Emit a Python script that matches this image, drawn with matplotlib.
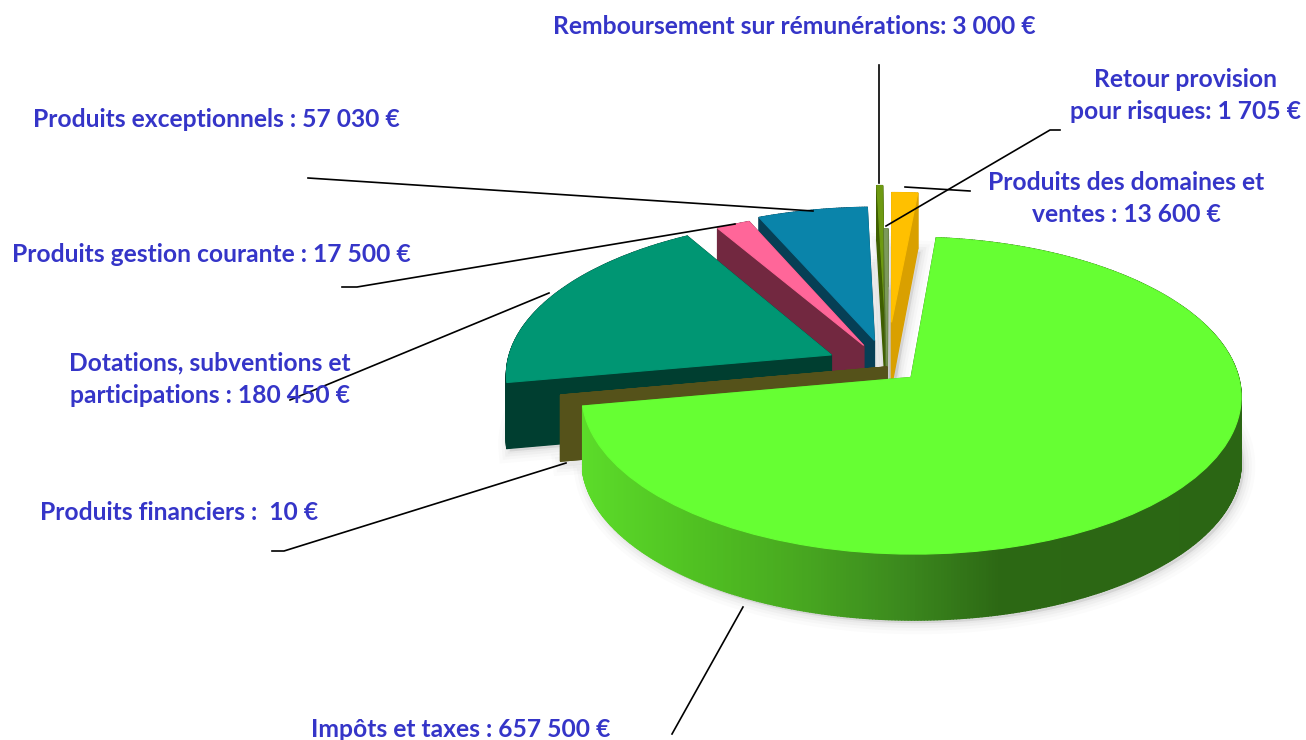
import matplotlib
matplotlib.use("Agg")
import matplotlib.pyplot as plt
from matplotlib.collections import PolyCollection
from matplotlib.patches import Polygon
from matplotlib.transforms import Transform
import numpy as np

# data
names = ["Impôts et taxes", "Produits financiers", "Dotations", "Gestion courante",
         "Exceptionnels", "Remboursement", "Retour provision", "Domaines"]
values = [657500, 10, 180450, 17500, 57030, 3000, 1705, 13600]
labels = ["Impôts et taxes : 657 500 €", "Produits financiers :  10 €",
          "Dotations, subventions et\nparticipations : 180 450 €",
          "Produits gestion courante : 17 500 €", "Produits exceptionnels : 57 030 €",
          "Remboursement sur rémunérations: 3 000 €", "Retour provision\npour risques: 1 705 €",
          "Produits des domaines et\nventes : 13 600 €"]

# style
explode = [0.10, 0, 0.19, 0.16, 0.18, 0.36, 0.0, 0.30]
top_cols = ["#66FF33", "#55521A", "#009673", "#FF6699", "#0A84AA", "#6E9A12", "#7C9A5A", "#FFC000"]
side_cols = ["#2B6614", "#55521A", "#003E30", "#722840", "#063F55", "#3F5F00", "#55702A", "#D9A000"]
z_order = [8, 7, 3, 2, 1, 4, 5, 6]
label_pos = [(461, 729.5), (179, 513), (210, 379.5), (211, 254.5), (216, 119.5), (794, 26.5), (1186, 95.5), (1126, 198.5)]
leaders = [[(672, 734), (743, 607)], [(272, 551), (284, 551), (566, 463)],
           [(290, 400), (549, 293)], [(342, 287), (357, 287), (735, 224)],
           [(308, 178), (813, 211)], [(879, 65), (879, 183)],
           [(1060, 130), (1050, 130), (886, 226)], [(970, 191), (905, 187)]]

# scene -> pixels
CX, CY, KX, KY, P = 887, 367, 325, 154, 0.1136


def project(u, v):
    s = 1 / (1 + P * v)
    return CX + KX * u * s, CY - KY * v * s


class Persp(Transform):
    input_dims = output_dims = 2

    def transform_non_affine(self, xy):
        xy = np.asarray(xy)
        return np.column_stack(project(xy[:, 0], xy[:, 1]))


fig = plt.figure(figsize=(13.06, 7.4), dpi=100)
ax = fig.add_axes([0, 0, 1, 1])
wedges, _ = ax.pie(values, explode=explode, startangle=84.6, counterclock=False, colors=top_cols)
ax.set_aspect("auto")
ax.set_xlim(0, 1306)
ax.set_ylim(740, 0)
ax.axis("off")

green_x = [580, 700, 800, 900, 1000, 1240]
green_c = np.array([[0x5C, 0xDD, 0x2A], [0x50, 0xC0, 0x22], [0x48, 0xA8, 0x20],
                    [0x3C, 0x8A, 0x1E], [0x2C, 0x68, 0x14], [0x2B, 0x66, 0x14]]) / 255

for i, w in enumerate(wedges):
    t = np.radians(np.linspace(w.theta1, w.theta2, max(2, int(w.theta2 - w.theta1) * 2)))
    cu, cv = w.center
    u = np.r_[cu, cu + w.r * np.cos(t), cu]
    v = np.r_[cv, cv + w.r * np.sin(t), cv]
    x, y = project(u, v)
    dy = 66 - 8 * np.maximum(v, 0)

    # soft shadow under the slice
    pts = np.column_stack([x + 3, y + dy + 3])
    for lw, a in [(16, 0.03), (11, 0.04), (7, 0.05), (3, 0.06)]:
        ax.add_patch(Polygon(pts, closed=True, fc="#808080", ec="#808080", lw=lw, alpha=a, zorder=0))

    # side walls, back to front
    quads, cols = [], []
    for k in range(len(x) - 1):
        quads.append([(x[k], y[k]), (x[k + 1], y[k + 1]),
                      (x[k + 1], y[k + 1] + dy[k + 1]), (x[k], y[k] + dy[k])])
        if i == 0:
            mx = (x[k] + x[k + 1]) / 2
            cols.append([np.interp(mx, green_x, green_c[:, j]) for j in range(3)])
        else:
            cols.append(side_cols[i])
    order = np.argsort([np.mean([q[1] for q in quad]) for quad in quads])
    ax.add_collection(PolyCollection([quads[o] for o in order], facecolors=[cols[o] for o in order],
                                     edgecolors="face", linewidths=1.0, zorder=z_order[i] * 10))

    w.set_transform(Persp() + ax.transData)
    w.set_zorder(z_order[i] * 10 + 1)
    w.set_edgecolor(top_cols[i])
    w.set_linewidth(0.8)

for pts in leaders:
    xs, ys = zip(*pts)
    ax.plot(xs, ys, color="black", lw=1.2, zorder=100)

for txt, (lx, ly) in zip(labels, label_pos):
    ax.text(lx, ly, txt, ha="center", va="center", fontsize=17.7, family="Lato", weight="bold",
            color="#3535C8", linespacing=1.5, zorder=101)

fig.savefig("out.png", dpi=100)
